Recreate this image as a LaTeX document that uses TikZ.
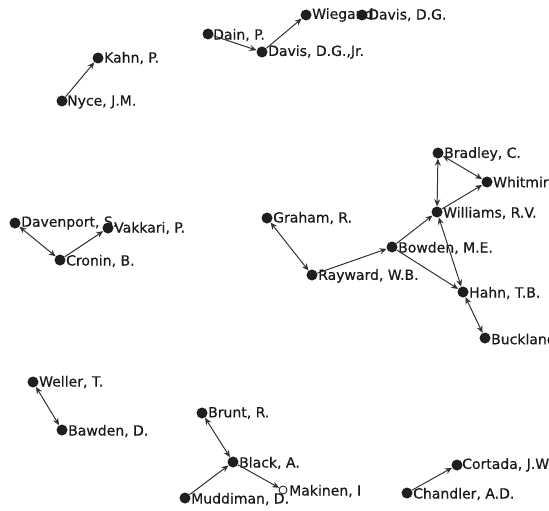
\documentclass[tikz,border=0pt]{standalone}
\usepackage{fontspec}
\setmainfont[FakeBold=0.5]{DejaVu Sans}
\usetikzlibrary{arrows.meta}
\begin{document}
\begin{tikzpicture}[x=1pt,y=-1pt,
  pt/.style={circle,fill=black!88,inner sep=0pt,minimum size=11pt},
  opt/.style={circle,draw=black!85,line width=0.9pt,inner sep=0pt,minimum size=8pt},
  lab/.style={anchor=west,inner sep=0pt,font=\fontsize{14}{15}\selectfont,text=black!90},
  ed/.style={draw=black!80,line width=1pt,-{Stealth[length=7pt,width=6pt]},shorten >=0pt,shorten <=0pt},
  bi/.style={ed,{Stealth[length=7pt,width=6pt]}-{Stealth[length=7pt,width=6pt]}}]
\useasboundingbox (0,0) rectangle (549,511);
\clip (0,0) rectangle (549,511);
% labels
\node[lab] (tDain) at (213,35) {Dain, P.};
\node[lab] (tDavJr) at (268,52) {Davis, D.G.,Jr.};
\node[lab] (tWieg) at (312,15) {Wiegand};
\node[lab] (tDav) at (368,15) {Davis, D.G.};
\node[lab] (tKahn) at (104,58) {Kahn, P.};
\node[lab] (tNyce) at (67,102) {Nyce, J.M.};
\node[lab] (tDaven) at (21,223) {Davenport, S.};
\node[lab] (tVak) at (114,228) {Vakkari, P.};
\node[lab] (tCro) at (66,261) {Cronin, B.};
\node[lab] (tGra) at (273,218) {Graham, R.};
\node[lab] (tRay) at (318,276) {Rayward, W.B.};
\node[lab] (tBow) at (398,248) {Bowden, M.E.};
\node[lab] (tWil) at (443,213) {Williams, R.V.};
\node[lab] (tBra) at (444,154) {Bradley, C.};
\node[lab] (tWhi) at (493,182) {Whitmire};
\node[lab] (tHah) at (469,293) {Hahn, T.B.};
\node[lab] (tBuc) at (491,339) {Buckland};
\node[lab] (tWel) at (39,382) {Weller, T.};
\node[lab] (tBaw) at (68,431) {Bawden, D.};
\node[lab] (tBru) at (208,413) {Brunt, R.};
\node[lab] (tBla) at (239,463) {Black, A.};
\node[lab] (tMud) at (191,499) {Muddiman, D.};
\node[lab] (tMak) at (289,491) {Makinen, I};
\node[lab] (tCor) at (462,465) {Cortada, J.W};
\node[lab] (tCha) at (413,494) {Chandler, A.D.};
% points
\node[pt] (Dain) at (208,34) {};
\node[pt] (DavJr) at (262,52) {};
\node[pt] (Wieg) at (306,15) {};
\node[pt] (Dav) at (362,15) {};
\node[pt] (Kahn) at (98,58) {};
\node[pt] (Nyce) at (62,101) {};
\node[pt] (Daven) at (15,223) {};
\node[pt] (Vak) at (108,228) {};
\node[pt] (Cro) at (60,260) {};
\node[pt] (Gra) at (267,218) {};
\node[pt] (Ray) at (312,275) {};
\node[pt] (Bow) at (392,247) {};
\node[pt] (Wil) at (437,212) {};
\node[pt] (Bra) at (438,153) {};
\node[pt] (Whi) at (487,182) {};
\node[pt] (Hah) at (463,292) {};
\node[pt] (Buc) at (485,338) {};
\node[pt] (Wel) at (33,382) {};
\node[pt] (Baw) at (62,430) {};
\node[pt] (Bru) at (202,413) {};
\node[pt] (Bla) at (233,462) {};
\node[pt] (Mud) at (185,498) {};
\node[opt] (Mak) at (283,490) {};
\node[pt] (Cor) at (457,465) {};
\node[pt] (Cha) at (407,493) {};
% edges
\draw[ed] (Dain) -- (DavJr);
\draw[ed] (DavJr) -- (Wieg);
\draw[ed] (Nyce) -- (Kahn);
\draw[bi] (Daven) -- (Cro);
\draw[ed] (Cro) -- (Vak);
\draw[bi] (Gra) -- (Ray);
\draw[ed] (Ray) -- (Bow);
\draw[ed] (Bow) -- (Wil);
\draw[bi] (Wil) -- (Bra);
\draw[bi] (Bra) -- (Whi);
\draw[ed] (Wil) -- (Whi);
\draw[ed] (Bow) -- (Hah);
\draw[bi] (Wil) -- (Hah);
\draw[bi] (Hah) -- (Buc);
\draw[bi] (Wel) -- (Baw);
\draw[bi] (Bru) -- (Bla);
\draw[ed] (Mud) -- (Bla);
\draw[ed] (Bla) -- (Mak);
\draw[ed] (Cha) -- (Cor);
\end{tikzpicture}
\end{document}
